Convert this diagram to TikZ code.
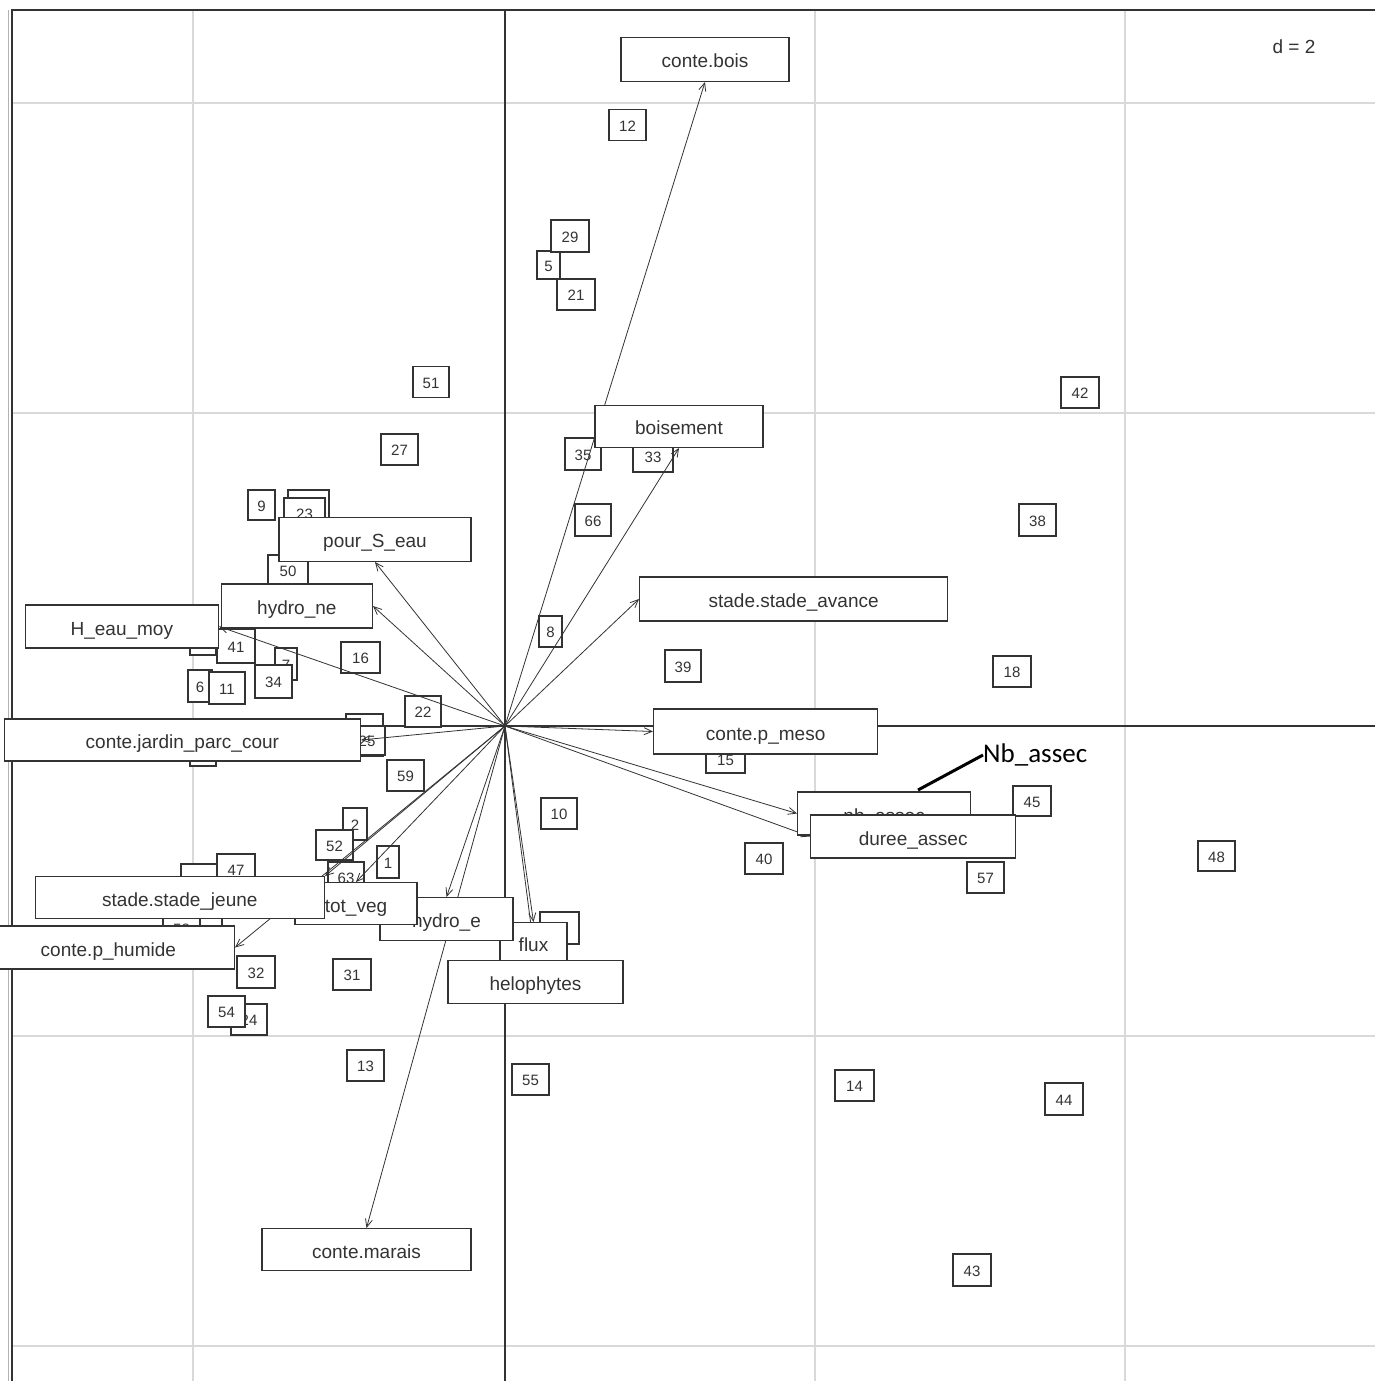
\documentclass[tikz,border=0pt]{standalone}
\usepackage{fontspec}
\setmainfont{Liberation Sans}
\newfontfamily\calib{Carlito}
\usetikzlibrary{arrows.meta}
\definecolor{ink}{gray}{0.2}
\definecolor{gridgray}{gray}{0.85}

\begin{document}
\begin{tikzpicture}[
x=1pt, y=-1pt,
every node/.style={inner sep=0pt, text=ink},
lab/.style={draw=ink, fill=white, line width=1.3pt, font=\fontsize{19}{22}\selectfont, text height=17pt, text depth=0pt},
pt/.style={draw=ink, fill=white, line width=1.2pt, font=\fontsize{15}{18}\selectfont, text height=12pt, text depth=0pt},
vec/.style={draw=ink, line width=0.8pt, -{Straight Barb[length=8pt,width=7pt]}},
gridln/.style={draw=gridgray, line width=1.8pt},
axisln/.style={draw=ink, line width=1.5pt}
]

\useasboundingbox (0,0) rectangle (1375,1381);
\clip (0,0) rectangle (1375,1381);
\fill[white] (0,0) rectangle (1375,1381);

\foreach \gx in {193,815,1125}
  \draw[gridln] (\gx,10) -- (\gx,1381);
\foreach \gy in {103,413,1036,1346}
  \draw[gridln] (12,\gy) -- (1375,\gy);

\draw[gray!60, line width=1pt] (8,10) -- (8,1381);
\draw[axisln] (12,9) -- (12,1381);
\draw[axisln, line width=2pt] (12,10) -- (1375,10);
\draw[axisln] (505,10) -- (505,1381);
\draw[axisln] (12,726) -- (1375,726);

\coordinate (O) at (505,726);

\foreach \px/\py/\pw/\ph/\pn in {
  308.5/505.5/41/31/q1, 203/640/26/30/q2, 364.5/735/37/42/q3,
  203/751/26/30/q4, 199.5/879/37/30/q5, 211/928/22/30/q6,
  559.5/928/39/32/q7}
  \node[pt, minimum width=\pw, minimum height=\ph] (\pn) at (\px,\py) {};

\foreach \px/\py/\pw/\ph/\pt in {
  627.5/125/37/31/12, 548.5/265/23/28/5, 570/236/38/32/29,
  576/294.5/38/31/21, 431/382/36/31/51, 1080/392.5/38/31/42,
  399.5/449.5/37/31/27, 583/454/36/32/35, 653/456/40/32/33,
  261.5/505/27/30/9, 304.5/513.5/41/31/23, 593/520/36/32/66,
  1037.5/520/37/32/38, 288/570.5/40/31/50, 550.5/631.5/23/31/8,
  236/646/38/34/41, 286/664/22/32/7, 273.5/681.5/37/33/34,
  360.5/657.5/39/31/16, 200/686/24/32/6, 227/688/36/32/11,
  683/666/36/32/39, 1012/671.5/38/31/18, 423/711.5/36/31/22,
  367/740.5/36/29/25, 405.5/775.5/37/31/59, 725.5/759/39/28/15,
  1032/801/38/30/45, 559/813.5/36/31/10, 764/858.5/38/31/40,
  1216.5/856/37/30/48, 985.5/877.5/37/31/57, 355/824/24/32/2,
  334.5/845/37/30/52, 388/862/22/32/1, 346/877/36/30/63,
  236/869.5/38/31/47, 181.5/928/37/30/58, 256/972/38/32/32,
  352/974.5/38/31/31, 249/1019.5/36/31/24, 226.5/1011.5/37/31/54,
  365.5/1065.5/37/31/13, 530.5/1079.5/37/31/55, 854.5/1085.5/39/31/14,
  1064/1099/38/32/44, 972/1270/38/32/43}
  \node[pt, minimum width=\pw, minimum height=\ph] (p\pt) at (\px,\py) {\pt};

\coordinate (tbois) at (705,82);
\coordinate (tboise) at (679,448);
\coordinate (tpour) at (375,562);
\coordinate (thne) at (373,606);
\coordinate (theau) at (219,626.5);
\coordinate (tavance) at (639,599);
\coordinate (tmeso) at (653,731.5);
\coordinate (tjardin) at (361,740);
\coordinate (tnb) at (797,813.5);
\coordinate (tduree) at (810,836.5);
\coordinate (tjeune) at (325,876);
\coordinate (tphum) at (235,947.5);
\coordinate (ttot) at (356,882);
\coordinate (thyde) at (446.5,897);
\coordinate (tflux) at (533.5,922);
\coordinate (thelo) at (535.5,960);
\coordinate (tmarais) at (366.5,1228);

\foreach \t in {tbois,tboise,tpour,thne,theau,tavance,tmeso,tjardin,tnb,
  tduree,tjeune,tphum,ttot,thyde,tflux,thelo,tmarais}
  \draw[vec] (O) -- (\t);

\node[lab, minimum width=168pt, minimum height=44pt, anchor=south] (bois) at (tbois) {conte.bois};
\node[lab, minimum width=168pt, minimum height=42pt, anchor=south] (boise) at (tboise) {boisement};
\node[lab, minimum width=192pt, minimum height=44pt, anchor=south] (pour) at (tpour) {pour\_S\_eau};
\node[lab, minimum width=151pt, minimum height=44pt, anchor=east] (hne) at (thne) {hydro\_ne};
\node[lab, minimum width=193pt, minimum height=43pt, anchor=east] (heau) at (theau) {H\_eau\_moy};
\node[lab, minimum width=308pt, minimum height=44pt, anchor=west] (avance) at (tavance) {stade.stade\_avance};
\node[lab, minimum width=224pt, minimum height=45pt, anchor=west] (meso) at (tmeso) {conte.p\_meso};
\node[lab, minimum width=356pt, minimum height=42pt, anchor=east] (jardin) at (tjardin) {conte.jardin\_parc\_cour};
\node[lab, minimum width=173pt, minimum height=43pt, anchor=west] (nb) at (tnb) {nb\_assec};
\node[lab, minimum width=205pt, minimum height=43pt, anchor=west] (duree) at (tduree) {duree\_assec};
\node[lab, minimum width=67pt, minimum height=40pt, anchor=north] (flux) at (tflux) {flux};
\node[lab, minimum width=133pt, minimum height=43pt, anchor=north] (hyde) at (thyde) {hydro\_e};
\node[lab, minimum width=122pt, minimum height=42pt, anchor=north] (tot) at (ttot) {tot\_veg};
\node[lab, minimum width=289pt, minimum height=42pt, anchor=north east] (jeune) at (tjeune) {stade.stade\_jeune};
\node[lab, minimum width=252pt, minimum height=43pt, anchor=east] (phum) at (tphum) {conte.p\_humide};
\node[lab, minimum width=175pt, minimum height=43pt, anchor=north] (helo) at (thelo) {helophytes};
\node[lab, minimum width=209pt, minimum height=42pt, anchor=north] (marais) at (tmarais) {conte.marais};

\node[font=\fontsize{19}{22}\selectfont] (dlab) at (1294,47) {d = 2};

\node[font=\calib\fontsize{27}{30}\selectfont, text=black, anchor=west] (nbnote) at (983,755) {Nb\_assec};
\coordinate (nbfoot) at (918,790);
\draw[black, line width=3pt] (nbfoot) -- (nbnote.west);

\end{tikzpicture}
\end{document}
